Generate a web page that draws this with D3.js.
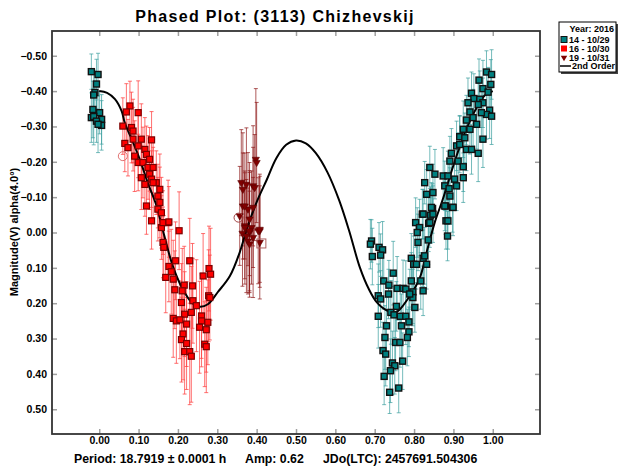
<!DOCTYPE html>
<html>
<head>
<meta charset="utf-8">
<script src="https://cdn.jsdelivr.net/npm/d3@7"></script>
<style>
  body { margin: 0; background: #fff; }
  text { font-family: "Liberation Sans", Arial, sans-serif; font-weight: bold; fill: #000; }
</style>
</head>
<body>
<svg id="drawing_region"></svg>
<script>
// tick values
const xTicks = [0.0, 0.1, 0.2, 0.3, 0.4, 0.5, 0.6, 0.7, 0.8, 0.9, 1.0];
const yTicks = [-0.5, -0.4, -0.3, -0.2, -0.1, 0.0, 0.1, 0.2, 0.3, 0.4, 0.5];

// [phase, magnitude, error] per session
const session14 = [
  [-0.020,-0.455,0.05],[-0.003,-0.447,0.06],[-0.007,-0.420,0.07],[-0.011,-0.396,0.06],[-0.014,-0.389,0.07],
  [-0.016,-0.348,0.08],[0.001,-0.339,0.06],[-0.020,-0.325,0.07],[-0.014,-0.328,0.08],[0.006,-0.320,0.07],
  [-0.007,-0.315,0.06],[0.006,-0.303,0.07],[-0.003,-0.306,0.08],
  [0.692,0.024,0.06],[0.689,0.033,0.07],[0.694,0.068,0.08],[0.711,0.042,0.07],[0.720,0.049,0.08],
  [0.715,0.064,0.06],[0.747,0.115,0.09],[0.723,0.137,0.08],[0.736,0.149,0.07],[0.757,0.158,0.09],
  [0.772,0.158,0.08],[0.735,0.174,0.07],[0.709,0.179,0.09],[0.715,0.188,0.08],[0.755,0.209,0.07],
  [0.741,0.226,0.09],[0.749,0.233,0.08],[0.765,0.237,0.07],[0.779,0.237,0.08],[0.709,0.237,0.09],
  [0.787,0.253,0.07],[0.730,0.264,0.08],[0.768,0.264,0.09],[0.787,0.281,0.07],[0.783,0.297,0.08],
  [0.726,0.297,0.09],[0.753,0.311,0.08],[0.764,0.311,0.07],[0.721,0.334,0.08],[0.728,0.344,0.09],
  [0.771,0.364,0.08],[0.745,0.369,0.09],[0.751,0.377,0.08],[0.740,0.391,0.09],[0.724,0.407,0.08],
  [0.761,0.440,0.07],[0.738,0.452,0.06],
  [0.793,0.073,0.07],[0.799,0.090,0.08],[0.806,0.090,0.07],[0.823,0.073,0.08],[0.832,0.090,0.07],
  [0.817,0.137,0.08],[0.823,0.165,0.07],[0.793,0.137,0.08],[0.797,0.168,0.09],[0.797,0.184,0.08],
  [0.802,0.212,0.07],[0.779,0.160,0.08],[0.789,0.174,0.07],[0.804,-0.028,0.07],[0.814,-0.014,0.08],
  [0.808,0.000,0.07],[0.810,0.028,0.08],[0.836,0.021,0.07],[0.837,-0.026,0.08],[0.821,-0.052,0.07],
  [0.842,-0.049,0.08],[0.847,-0.068,0.07],[0.881,-0.033,0.08],[0.885,0.010,0.07],[0.880,-0.075,0.08],
  [0.898,-0.071,0.07],[0.827,0.066,0.08],
  [0.984,-0.454,0.06],[0.997,-0.447,0.07],[0.965,-0.431,0.06],[0.995,-0.419,0.07],[0.975,-0.407,0.08],
  [0.988,-0.397,0.07],[0.946,-0.394,0.06],[0.952,-0.379,0.07],[0.967,-0.377,0.08],[0.975,-0.367,0.07],
  [0.963,-0.362,0.06],[0.937,-0.367,0.07],[0.992,-0.346,0.08],[0.984,-0.334,0.07],[0.997,-0.329,0.08],
  [0.971,-0.339,0.07],[0.942,-0.341,0.06],[0.933,-0.318,0.07],[0.950,-0.325,0.08],[0.959,-0.306,0.07],
  [0.925,-0.292,0.08],[0.942,-0.292,0.07],[0.916,-0.271,0.06],[0.929,-0.268,0.07],[0.975,-0.264,0.08],
  [0.908,-0.245,0.07],[0.916,-0.249,0.08],[0.895,-0.224,0.07],[0.933,-0.235,0.06],[0.946,-0.235,0.07],
  [0.963,-0.224,0.08],[0.891,-0.202,0.07],[0.912,-0.202,0.08],[0.925,-0.186,0.07],[0.840,-0.184,0.06],
  [0.853,-0.165,0.07],[0.874,-0.160,0.08],[0.886,-0.160,0.07],[0.903,-0.151,0.08],[0.925,-0.155,0.07],
  [0.827,-0.141,0.06],[0.832,-0.108,0.07],[0.848,-0.113,0.08],[0.878,-0.132,0.07],[0.889,-0.124,0.08],
  [0.908,-0.132,0.07],[0.891,-0.103,0.08],[0.878,-0.075,0.07],[0.899,-0.071,0.08],[0.844,-0.071,0.07],
  [0.848,-0.052,0.08],[0.823,-0.052,0.07],[0.886,-0.033,0.08],[0.840,-0.028,0.07]
];

const session16 = [
  [0.078,-0.358,0.07],[0.069,-0.341,0.08],[0.099,-0.339,0.09],[0.060,-0.301,0.08],[0.082,-0.297,0.10],
  [0.086,-0.287,0.09],[0.065,-0.252,0.08],[0.086,-0.264,0.09],[0.107,-0.264,0.10],[0.073,-0.240,0.08],
  [0.099,-0.245,0.09],[0.133,-0.262,0.08],[0.090,-0.216,0.10],[0.116,-0.235,0.09],[0.120,-0.221,0.08],
  [0.128,-0.207,0.09],[0.099,-0.198,0.08],[0.111,-0.198,0.10],[0.124,-0.184,0.09],[0.137,-0.184,0.08],
  [0.107,-0.155,0.09],[0.128,-0.165,0.10],[0.133,-0.151,0.08],[0.145,-0.141,0.09],[0.154,-0.122,0.10],
  [0.149,-0.103,0.09],[0.154,-0.085,0.10],[0.120,-0.075,0.08],[0.149,-0.066,0.09],[0.158,-0.056,0.10],
  [0.133,-0.033,0.08],[0.175,-0.028,0.12],[0.158,-0.014,0.09],[0.116,-0.136,0.09],[0.137,-0.141,0.10],
  [0.162,-0.028,0.09],[0.177,-0.030,0.10],[0.203,-0.005,0.11],[0.162,0.028,0.10],[0.164,0.042,0.09],
  [0.194,0.080,0.11],[0.230,0.080,0.12],[0.177,0.096,0.10],[0.183,0.111,0.12],[0.169,0.127,0.10],
  [0.188,0.132,0.11],[0.279,0.102,0.12],[0.283,0.118,0.13],[0.264,0.123,0.12],[0.216,0.149,0.11],
  [0.237,0.151,0.12],[0.192,0.162,0.11],[0.211,0.165,0.12],[0.278,0.179,0.13],[0.281,0.184,0.12],
  [0.209,0.198,0.11],[0.238,0.193,0.12],[0.247,0.207,0.13],[0.217,0.231,0.12],[0.234,0.226,0.13],
  [0.260,0.236,0.12],[0.188,0.243,0.11],[0.196,0.250,0.12],[0.205,0.247,0.11],[0.222,0.259,0.12],
  [0.260,0.250,0.13],[0.276,0.254,0.12],[0.255,0.268,0.13],[0.272,0.275,0.12],[0.213,0.287,0.13],
  [0.209,0.303,0.12],[0.222,0.314,0.13],[0.268,0.316,0.12],[0.272,0.323,0.13],[0.217,0.337,0.12],
  [0.230,0.337,0.15],[0.234,0.350,0.13]
];

const session19 = [
  [0.398,-0.207,0.20],[0.400,-0.198,0.17],[0.361,-0.141,0.15],[0.374,-0.136,0.16],[0.391,-0.132,0.17],
  [0.395,-0.127,0.15],[0.365,-0.122,0.16],[0.365,-0.075,0.15],[0.378,-0.066,0.16],[0.391,-0.071,0.17],
  [0.370,-0.075,0.15],[0.357,-0.047,0.14],[0.382,-0.038,0.16],[0.370,-0.019,0.15],[0.387,-0.014,0.16],
  [0.364,0.002,0.15],[0.382,0.000,0.17],[0.408,-0.005,0.16],[0.404,-0.005,0.15],[0.374,0.010,0.16],
  [0.391,0.014,0.17],[0.378,0.024,0.15],[0.408,0.028,0.16],[0.382,0.033,0.15],[0.408,-0.009,0.15],
  [0.370,-0.014,0.16],[0.382,-0.005,0.17]
];

// rejected points drawn hollow
const hollow16 = [[0.060,-0.216]];
const hollow19Circle = [[0.354,-0.042]];
const hollow19Square = [[0.412,0.031]];

// fitted 2nd order curve
const fitCurve = [
  [0.000,-0.400],[0.020,-0.395],[0.040,-0.377],[0.057,-0.343],[0.065,-0.310],[0.083,-0.263],
  [0.103,-0.207],[0.123,-0.142],[0.146,-0.074],[0.159,-0.018],[0.187,0.095],[0.212,0.160],
  [0.235,0.198],[0.255,0.210],[0.276,0.203],[0.301,0.169],[0.332,0.123],[0.357,0.056],
  [0.375,-0.010],[0.400,-0.086],[0.426,-0.150],[0.450,-0.210],[0.475,-0.248],[0.500,-0.260],
  [0.525,-0.252],[0.550,-0.225],[0.580,-0.170],[0.610,-0.090],[0.635,-0.005],[0.662,0.098],
  [0.685,0.160],[0.705,0.197],[0.730,0.220],[0.755,0.225],[0.784,0.188],[0.814,0.130],
  [0.832,0.055],[0.853,-0.030],[0.873,-0.094],[0.900,-0.190],[0.930,-0.285],[0.960,-0.355],
  [0.980,-0.388],[1.000,-0.400]
];

const title = 'Phased Plot: (3113) Chizhevskij';
const yLabel = 'Magnitude(V) alpha(4.0°)';
const footer = ['Period: 18.7919 ± 0.0001 h', 'Amp: 0.62', 'JDo(LTC): 2457691.504306'];
const legendTitle = 'Year: 2016';
const legendLabels = ['14 - 10/29', '16 - 10/30', '19 - 10/31', '2nd Order'];

const width = 618, height = 467;
const margin = {top: 31, right: 78, bottom: 33, left: 52};
const innerW = width - margin.left - margin.right;
const innerH = height - margin.top - margin.bottom;

const svg = d3.select('#drawing_region')
  .attr('width', width)
  .attr('height', height);

const chart = svg.append('g')
  .attr('transform', `translate(${margin.left}, ${margin.top})`);

const xscale = d3.scaleLinear().domain([-0.12, 1.12]).range([0, innerW]);
const yscale = d3.scaleLinear().domain([-0.57, 0.57]).range([0, innerH]);
const fmt = d3.format('.2f');

// axes with inward ticks on every side
const styleAxis = g => {
  g.select('.domain').remove();
  g.selectAll('.tick line').attr('stroke', '#a0a0a0').attr('stroke-width', 1.5);
  g.selectAll('.tick text').style('font-size', '10.5px').style('font-weight', 'bold')
    .style('font-family', '"Liberation Sans", Arial, sans-serif').attr('fill', '#000');
};

chart.append('g')
  .attr('transform', `translate(0, ${innerH})`)
  .call(d3.axisBottom(xscale).tickValues(xTicks).tickFormat(fmt).tickSizeInner(-5).tickSizeOuter(0).tickPadding(3))
  .call(styleAxis);
chart.append('g')
  .call(d3.axisTop(xscale).tickValues(xTicks).tickFormat('').tickSizeInner(-5).tickSizeOuter(0))
  .call(styleAxis);
chart.append('g')
  .call(d3.axisLeft(yscale).tickValues(yTicks).tickFormat(fmt).tickSizeInner(-5).tickSizeOuter(0).tickPadding(5))
  .call(styleAxis);
chart.append('g')
  .attr('transform', `translate(${innerW}, 0)`)
  .call(d3.axisRight(yscale).tickValues(yTicks).tickFormat('').tickSizeInner(-5).tickSizeOuter(0))
  .call(styleAxis);

// error bars
const drawErrors = (data, color, opacity) => {
  const g = chart.append('g').attr('stroke', color).attr('stroke-opacity', opacity).attr('stroke-width', 1);
  data.forEach(d => {
    const x = xscale(d[0]);
    const y1 = yscale(d[1] - d[2]);
    const y2 = yscale(d[1] + d[2]);
    g.append('line').attr('x1', x).attr('x2', x).attr('y1', y1).attr('y2', y2);
    g.append('line').attr('x1', x - 2).attr('x2', x + 2).attr('y1', y1).attr('y2', y1);
    g.append('line').attr('x1', x - 2).attr('x2', x + 2).attr('y1', y2).attr('y2', y2);
  });
};
drawErrors(session14, '#3a9e9e', 0.7);
drawErrors(session16, '#ff4040', 0.75);
drawErrors(session19, '#8b1515', 0.7);

// fit curve
chart.append('path')
  .datum(fitCurve)
  .attr('fill', 'none')
  .attr('stroke', '#000')
  .attr('stroke-width', 2)
  .attr('d', d3.line().x(d => xscale(d[0])).y(d => yscale(d[1])).curve(d3.curveCatmullRom));

// markers
const sq = 6;
chart.append('g').selectAll('rect')
  .data(session14)
  .join('rect')
  .attr('x', d => xscale(d[0]) - sq / 2)
  .attr('y', d => yscale(d[1]) - sq / 2)
  .attr('width', sq).attr('height', sq)
  .attr('fill', '#008080')
  .attr('stroke', '#111')
  .attr('stroke-width', 1.4);

chart.append('g').selectAll('rect')
  .data(session16)
  .join('rect')
  .attr('x', d => xscale(d[0]) - sq / 2)
  .attr('y', d => yscale(d[1]) - sq / 2)
  .attr('width', sq).attr('height', sq)
  .attr('fill', '#ff0000')
  .attr('stroke', '#7a0000')
  .attr('stroke-width', 1.2);

const tri = d3.symbol().type(d3.symbolTriangle).size(22);
chart.append('g').selectAll('path')
  .data(session19)
  .join('path')
  .attr('d', tri)
  .attr('transform', d => `translate(${xscale(d[0])}, ${yscale(d[1])}) rotate(180)`)
  .attr('fill', '#800000')
  .attr('stroke', '#5a0000')
  .attr('stroke-width', 0.6);

chart.append('g').selectAll('circle')
  .data(hollow16.concat(hollow19Circle))
  .join('circle')
  .attr('cx', d => xscale(d[0]))
  .attr('cy', d => yscale(d[1]))
  .attr('r', 4.5)
  .attr('fill', 'none')
  .attr('stroke', (d, i) => i === 0 ? '#e07070' : '#a04040')
  .attr('stroke-width', 1);

chart.append('g').selectAll('rect')
  .data(hollow19Square)
  .join('rect')
  .attr('x', d => xscale(d[0]) - 4.5)
  .attr('y', d => yscale(d[1]) - 4.5)
  .attr('width', 9).attr('height', 9)
  .attr('fill', 'none')
  .attr('stroke', '#b06060')
  .attr('stroke-width', 1);

// frame
chart.append('rect')
  .attr('x', 0).attr('y', 0)
  .attr('width', innerW).attr('height', innerH)
  .attr('fill', 'none')
  .attr('stroke', '#333')
  .attr('stroke-width', 1.8);

// title and labels
svg.append('text')
  .attr('x', 275)
  .attr('y', 22)
  .attr('text-anchor', 'middle')
  .style('font-size', '16px')
  .style('letter-spacing', '1.3px')
  .text(title);

svg.append('text')
  .attr('transform', 'rotate(-90)')
  .attr('x', -232)
  .attr('y', 18)
  .attr('text-anchor', 'middle')
  .style('font-size', '11px')
  .text(yLabel);

const footerX = [74, 245, 323];
footer.forEach((t, i) => {
  svg.append('text')
    .attr('x', footerX[i])
    .attr('y', 463)
    .style('font-size', '12.3px')
    .text(t);
});

// legend
const legend = svg.append('g').attr('transform', 'translate(559, 22)');
legend.append('rect').attr('x', 2).attr('y', 2).attr('width', 57).attr('height', 50).attr('fill', '#444');
legend.append('rect').attr('x', 0).attr('y', 0).attr('width', 57).attr('height', 50)
  .attr('fill', '#fff').attr('stroke', '#000').attr('stroke-width', 1);
legend.append('text').attr('x', 55).attr('y', 9.5).attr('text-anchor', 'end')
  .style('font-size', '9px').text(legendTitle);

const rowY = [17.5, 26.5, 35.5, 44];
legendLabels.forEach((t, i) => {
  legend.append('text').attr('x', i === 3 ? 13 : 10).attr('y', rowY[i] + 3.2)
    .style('font-size', '9px').text(t);
});
legend.append('rect').attr('x', 2).attr('y', rowY[0] - 3).attr('width', 6).attr('height', 6)
  .attr('fill', '#008080').attr('stroke', '#111').attr('stroke-width', 1);
legend.append('rect').attr('x', 2).attr('y', rowY[1] - 3).attr('width', 6).attr('height', 6)
  .attr('fill', '#ff0000');
legend.append('path').attr('d', d3.symbol().type(d3.symbolTriangle).size(18))
  .attr('transform', `translate(5, ${rowY[2]}) rotate(180)`).attr('fill', '#800000');
legend.append('line').attr('x1', 1).attr('x2', 12).attr('y1', rowY[3]).attr('y2', rowY[3])
  .attr('stroke', '#000').attr('stroke-width', 1.5);
</script>
</body>
</html>
